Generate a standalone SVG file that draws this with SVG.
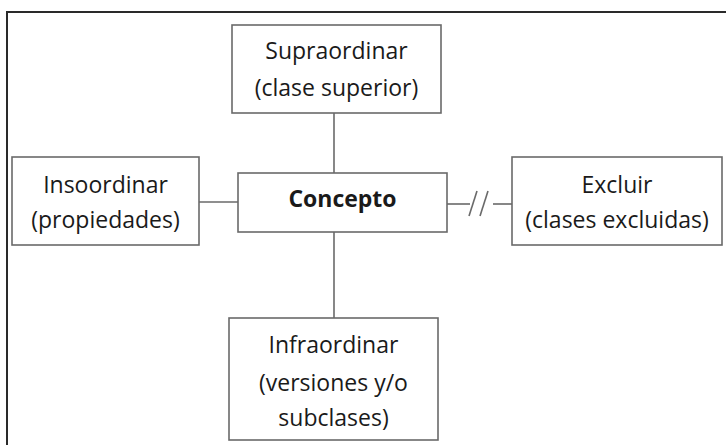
<svg xmlns="http://www.w3.org/2000/svg" width="726" height="445" viewBox="0 0 726 445">
<style>
.box{fill:#fff;stroke:#6a6a6a;stroke-width:1.6}
.ln{stroke:#6a6a6a;stroke-width:1.6;fill:none}
.t{font-family:"Open Sans","Noto Sans",sans-serif;font-size:23px;fill:#1a1a1a;text-anchor:middle}
.b{font-weight:bold}
</style>
<rect width="726" height="445" fill="#fff"/>
<path d="M7,445 V12 H726" fill="none" stroke="#2a2a2a" stroke-width="2"/>
<g id="connectors">
<line class="ln" x1="334" y1="113" x2="334" y2="173"/>
<line class="ln" x1="334" y1="232" x2="334" y2="318"/>
<line class="ln" x1="199" y1="202" x2="238" y2="202"/>
<line class="ln" x1="447" y1="204" x2="470" y2="204"/>
<line class="ln" x1="469" y1="216" x2="477" y2="191"/>
<line class="ln" x1="480" y1="216" x2="488" y2="191"/>
<line class="ln" x1="493" y1="204" x2="512" y2="204"/>
</g>
<g id="supraordinar">
<rect class="box" x="232" y="25" width="209" height="88"/>
<text class="t" x="336.5" y="59">Supraordinar</text>
<text class="t" x="336.5" y="96">(clase superior)</text>
</g>
<g id="concepto">
<rect class="box" x="238" y="173" width="209" height="59"/>
<text class="t b" x="342.5" y="207">Concepto</text>
</g>
<g id="insoordinar">
<rect class="box" x="12" y="157" width="187" height="88"/>
<text class="t" x="105.5" y="193">Insoordinar</text>
<text class="t" x="105.5" y="228">(propiedades)</text>
</g>
<g id="excluir">
<rect class="box" x="512" y="157" width="210" height="88"/>
<text class="t" x="617" y="193">Excluir</text>
<text class="t" x="617" y="228">(clases excluidas)</text>
</g>
<g id="infraordinar">
<rect class="box" x="229" y="318" width="209" height="122"/>
<text class="t" x="333.5" y="353">Infraordinar</text>
<text class="t" x="333.5" y="391">(versiones y/o</text>
<text class="t" x="333.5" y="426">subclases)</text>
</g>
</svg>
